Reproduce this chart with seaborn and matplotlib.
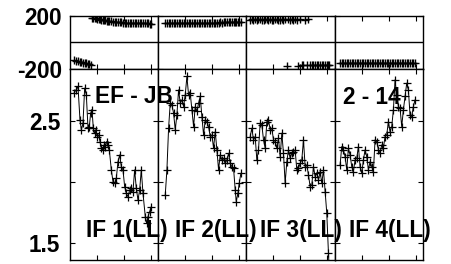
import matplotlib
matplotlib.use("Agg")
import matplotlib.pyplot as plt
import seaborn as sns
import pandas as pd

# ---------------- data ----------------
if_labels = ["IF 1(LL)", "IF 2(LL)", "IF 3(LL)", "IF 4(LL)"]
baseline_label = "EF - JB"
source_label = "2 - 14"

t1 = [0.148, 0.222, 0.296, 0.370, 0.420, 0.481, 0.543, 0.605, 0.667, 0.716,
      0.765, 0.815, 0.864, 0.914, 0.963, 1.012, 1.062, 1.111, 1.160, 1.210,
      1.259, 1.309, 1.358, 1.407, 1.457, 1.531, 1.593, 1.654, 1.716, 1.778,
      1.840, 1.901, 1.963, 2.025, 2.086, 2.148, 2.210, 2.272, 2.333, 2.395,
      2.457, 2.519, 2.580, 2.642, 2.704, 2.790, 2.840, 2.889, 2.951, 3.012]
amp1 = [2.723, 2.750, 2.778, 2.506, 2.424, 2.478, 2.764, 2.710, 2.438, 2.451,
        2.560, 2.587, 2.438, 2.397, 2.424, 2.370, 2.383, 2.329, 2.275, 2.261,
        2.302, 2.288, 2.329, 2.302, 2.261, 2.098, 2.003, 1.989, 2.030, 2.166,
        2.220, 2.125, 2.098, 1.962, 1.907, 1.880, 1.935, 1.948, 1.921, 2.098,
        1.948, 1.853, 1.935, 2.098, 1.907, 1.717, 1.663, 1.717, 1.758, 1.799]
ph1 = [-135, -140, -143, -147, -150, -152, -155, -158, -160, -163,
       -167, 186, 184, 182, 180, 178, 176, 173, 171, 169,
       167, 165, 163, 161, 159, 157, 155, 153, 152, 151,
       150, 149, 148, 147, 147, 146, 146, 145, 145, 144,
       144, 144, 143, 143, 143, 142, 142, 142, 141, 141]

t2 = [0.259, 0.321, 0.383, 0.444, 0.506, 0.568, 0.630, 0.691, 0.753, 0.815,
      0.877, 0.938, 1.000, 1.062, 1.123, 1.185, 1.247, 1.309, 1.370, 1.432,
      1.494, 1.556, 1.617, 1.679, 1.741, 1.802, 1.864, 1.926, 1.988, 2.049,
      2.111, 2.173, 2.235, 2.296, 2.358, 2.420, 2.481, 2.543, 2.605, 2.667,
      2.728, 2.790, 2.852, 2.889, 2.951, 3.000, 3.062]
amp2 = [1.894, 2.098, 2.438, 2.642, 2.628, 2.560, 2.424, 2.546, 2.750, 2.642,
        2.669, 2.614, 2.710, 2.859, 2.710, 2.723, 2.587, 2.451, 2.614, 2.574,
        2.642, 2.696, 2.533, 2.383, 2.506, 2.492, 2.451, 2.370, 2.383, 2.275,
        2.410, 2.261, 2.098, 2.220, 2.179, 2.193, 2.152, 2.179, 2.234, 2.152,
        2.125, 2.111, 1.935, 1.840, 1.907, 1.989, 2.071]
ph2 = [146, 145, 147, 144, 145, 146, 144, 145, 146, 145,
       144, 145, 146, 145, 144, 145, 146, 145, 144, 145,
       146, 145, 146, 145, 146, 147, 146, 147, 146, 147,
       148, 147, 148, 149, 148, 149, 150, 150, 151, 151,
       152, 152, 153, 153, 154, 155, 156]

t3 = [0.136, 0.198, 0.259, 0.321, 0.383, 0.444, 0.506, 0.568, 0.630, 0.691,
      0.753, 0.815, 0.877, 0.938, 1.000, 1.062, 1.123, 1.185, 1.247, 1.309,
      1.370, 1.432, 1.494, 1.556, 1.617, 1.679, 1.741, 1.802, 1.864, 1.926,
      1.988, 2.049, 2.111, 2.173, 2.235, 2.296, 2.358, 2.420, 2.481, 2.543,
      2.605, 2.667, 2.728, 2.790, 2.852, 2.914, 2.975, 3.037, 3.074]
amp3 = [2.370, 2.438, 2.343, 2.370, 2.179, 2.261, 2.478, 2.465, 2.343, 2.275,
        2.492, 2.506, 2.424, 2.438, 2.343, 2.329, 2.275, 2.356, 2.207, 2.397,
        2.234, 1.989, 2.166, 2.261, 2.193, 2.234, 2.247, 2.261, 2.098, 2.111,
        2.152, 2.179, 2.343, 2.125, 2.139, 2.057, 1.962, 1.975, 2.125, 2.043,
        2.071, 2.016, 2.084, 1.989, 2.098, 1.921, 1.744, 1.418, 1.250]
ph3 = [170, 172, 171, 173, 170, 172, 174, 171, 170, 172,
       173, 171, 172, 170, 171, 173, 172, 171, 170, 172,
       171, 173, -178, 172, 171, 173, 170, 172, 171, -175,
       172, -172, -170, 171, -173, 172, -172, -170, -173, -171,
       -172, -170, -171, -173, -172, -170, -171, -172, -173]

t4 = [0.198, 0.259, 0.321, 0.383, 0.444, 0.506, 0.568, 0.630, 0.691, 0.753,
      0.815, 0.877, 0.938, 1.000, 1.062, 1.123, 1.185, 1.247, 1.309, 1.370,
      1.432, 1.494, 1.556, 1.617, 1.679, 1.741, 1.802, 1.864, 1.926, 1.988,
      2.049, 2.111, 2.173, 2.235, 2.296, 2.358, 2.420, 2.481, 2.543, 2.605,
      2.667, 2.728, 2.790, 2.852, 2.914, 2.975]
amp4 = [2.139, 2.288, 2.261, 2.207, 2.098, 2.275, 2.220, 2.125, 2.084, 2.179,
        2.193, 2.288, 2.125, 2.071, 2.179, 2.261, 2.207, 2.098, 2.166, 2.125,
        2.084, 2.343, 2.329, 2.261, 2.234, 2.302, 2.275, 2.370, 2.383, 2.492,
        2.410, 2.451, 2.587, 2.832, 2.710, 2.614, 2.601, 2.451, 2.587, 2.696,
        2.805, 2.750, 2.546, 2.533, 2.614, 2.669]
ph4 = [-158, -156, -155, -157, -154, -156, -155, -153, -156, -155,
       -154, -156, -155, -157, -154, -155, -156, -154, -155, -153,
       -156, -155, -154, -156, -155, -157, -154, -155, -156, -154,
       -155, -153, -156, -155, -154, -156, -155, -157, -154, -155,
       -156, -155, -157, -156, -158, -157]

times = [t1, t2, t3, t4]
amps = [amp1, amp2, amp3, amp4]
phases = [ph1, ph2, ph3, ph4]

# ---------------- style ----------------
sns.set_style("ticks")
plt.rcParams["font.family"] = ["Liberation Sans", "DejaVu Sans"]
plt.rcParams["font.weight"] = "bold"

W, H = 452, 264
fig = plt.figure(figsize=(W / 100, H / 100), dpi=100)
gs = fig.add_gridspec(2, 4, left=70 / W, right=423 / W, bottom=1 - 260 / H,
                      top=1 - 15.7 / H, height_ratios=[53.3, 191],
                      wspace=0, hspace=0)

FS = 16.3
for i in range(4):
    axp = fig.add_subplot(gs[0, i])
    axa = fig.add_subplot(gs[1, i])
    dfa = pd.DataFrame({"t": times[i], "amp": amps[i], "ph": phases[i]})
    sns.lineplot(data=dfa, x="t", y="amp", ax=axa, color="black", lw=0.7,
                 marker="+", markersize=6, markeredgewidth=0.9,
                 markeredgecolor="black", estimator=None, sort=False)
    sns.scatterplot(data=dfa, x="t", y="ph", ax=axp, color="black",
                    marker="+", s=34, linewidth=1.0)
    axp.axhline(0, color="black", lw=1.0)
    for ax in (axp, axa):
        ax.set_xlim(0, 3.27)
        ax.set_xticks([1, 2, 3])
        ax.set_xlabel("")
        ax.set_ylabel("")
        ax.tick_params(direction="in", length=3.5, width=0.8, top=True,
                       right=True, labelbottom=False, colors="black")
        for sp in ax.spines.values():
            sp.set_color("black")
            sp.set_linewidth(1.0)
    axp.set_ylim(-200, 200)
    axp.set_yticks([-200, 200])
    axp.set_yticklabels(["-200", "200"], fontsize=FS, fontweight="bold")
    axp.tick_params(axis="y", pad=6)
    axa.set_ylim(1.364, 2.92)
    axa.set_yticks([1.5, 2.0, 2.5])
    axa.set_yticklabels(["1.5", "", "2.5"], fontsize=FS, fontweight="bold")
    axa.tick_params(axis="y", pad=7)
    if i > 0:
        axp.tick_params(labelleft=False)
        axa.tick_params(labelleft=False)

def px(x, y):
    return x / W, 1 - y / H

label_x = [86, 175, 260, 349]
for lx, lab in zip(label_x, if_labels):
    fig.text(*px(lx, 236.7), lab, fontsize=FS, fontweight="bold",
             ha="left", va="baseline", color="black")
fig.text(*px(95, 103), baseline_label, fontsize=FS, fontweight="bold",
         ha="left", va="baseline", color="black")
fig.text(*px(343, 103.5), source_label, fontsize=FS, fontweight="bold",
         ha="left", va="baseline", color="black")

fig.savefig("out.png", dpi=100)
